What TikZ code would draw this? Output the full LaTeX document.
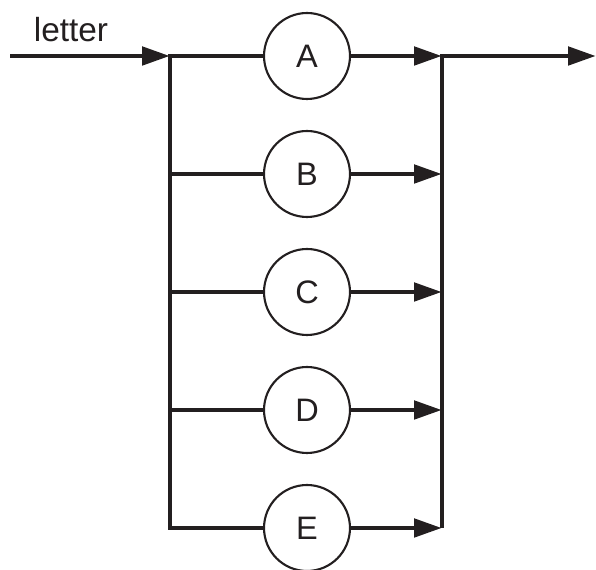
\documentclass[tikz,border=0pt]{standalone}
\usepackage{fontspec}
\setmainfont{Liberation Sans}
\usetikzlibrary{arrows.meta}
\definecolor{ink}{HTML}{231F20}
\tikzset{
  bar/.style={draw=ink, line width=2.8pt, line join=miter},
  wire/.style={bar, -{Triangle[length=0.56cm,width=0.36cm]}},
  choice/.style={circle, draw=ink, line width=1.2pt, fill=white,
    minimum size=1.72cm, inner sep=0pt, text=ink,
    font=\fontsize{18.5}{22}\selectfont},
}

\begin{document}
\begin{tikzpicture}[x=0.02cm, y=-0.02cm]
  \useasboundingbox (0,0) rectangle (596,570);
  \coordinate (in) at (10,56);
  \coordinate (out) at (596,56);
  \node[text=ink, font=\fontsize{19}{22}\selectfont] (lbl) at (71,30) {letter};

  \foreach \n/\N/\y in {a/A/56,b/B/174,c/C/292,d/D/410,e/E/528} {
    \coordinate (l\n) at (170,\y);
    \coordinate (r\n) at (442,\y);
    \node[choice] (\n) at (307,\y) {\N};
    \draw[wire] (\n) -- (r\n);
  }

  \draw[wire] (in) -- (la);
  \draw[bar] (a) -- (la) -- (le) -- (e);
  \foreach \n in {b,c,d}
    \draw[bar] (l\n) -- (\n);
  \draw[wire] (re) -- (ra) -- (out);
\end{tikzpicture}
\end{document}
